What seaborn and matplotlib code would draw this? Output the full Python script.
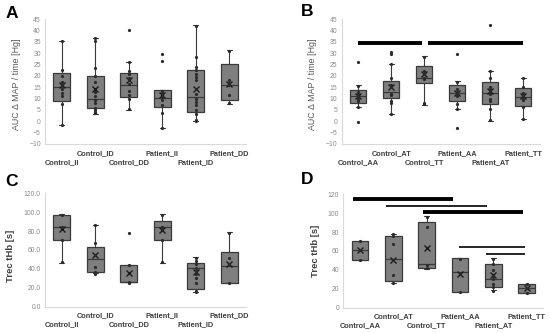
import numpy as np
import pandas as pd
import matplotlib
matplotlib.use('Agg')
import matplotlib.pyplot as plt
import seaborn as sns

sns.set_style("white")
plt.rcParams['font.family'] = ['Liberation Sans', 'DejaVu Sans']

# ------------------------------------------------------------
# Panel A: AUC dMAP by genotype (II/ID/DD)
# ------------------------------------------------------------
a_groups = ['Control_II', 'Control_ID', 'Control_DD', 'Patient_II', 'Patient_ID', 'Patient_DD']
a_lo = [-1.5, 3.0, 5.0, -3.0, 0.0, 7.7]
a_q1 = [9.0, 6.0, 10.5, 6.3, 4.3, 9.5]
a_med = [15.0, 10.0, 16.0, 10.3, 10.8, 16.0]
a_q3 = [21.2, 19.8, 21.2, 13.6, 22.5, 25.0]
a_hi = [35.5, 36.5, 26.2, 13.6, 42.2, 31.2]
a_mean = [16.0, 14.0, 18.0, 11.7, 14.0, 16.5]
a_points = [
    [35.5, 22.5, 20, 17.5, 16, 14, 12.5, 11, 7.5, -1.5],
    [36.5, 35.5, 23.5, 20, 17.5, 13, 11, 9.5, 8, 6, 5, 4, 3.5],
    [40, 26, 22, 21, 19, 18, 16.5, 13.5, 11.5, 10, 5.5],
    [29.5, 26.5, 13.5, 12.5, 10.5, 9.5, 7, 3.5, -3],
    [42, 28.5, 24, 22.5, 21, 19.5, 18, 14, 12, 10, 8.5, 7, 5, 3, 0.5, 0],
    [31, 18, 17, 16, 11.5, 8],
]

# ------------------------------------------------------------
# Panel B: AUC dMAP by genotype (AA/AT/TT)
# ------------------------------------------------------------
b_groups = ['Control_AA', 'Control_AT', 'Control_TT', 'Patient_AA', 'Patient_AT', 'Patient_TT']
b_lo = [6.5, 3.0, 7.2, 5.5, 0.3, 0.9]
b_q1 = [8.2, 10.2, 16.8, 9.1, 7.5, 6.9]
b_med = [11.0, 13.0, 19.1, 12.6, 12.6, 10.5]
b_q3 = [13.7, 17.8, 24.3, 16.1, 17.4, 14.6]
b_hi = [16.0, 25.0, 28.8, 17.9, 22.1, 19.2]
b_mean = [11.0, 15.0, 21.0, 12.5, 13.3, 11.0]
b_points = [
    [26, 15.5, 13, 12, 11, 10, 9, 6.5, -0.5],
    [30.5, 29.5, 25, 19, 16, 15, 12, 11.5, 9, 8, 3],
    [28.5, 22, 21, 19, 18.5, 8, 7.5],
    [29.5, 17.5, 14, 13, 12, 11, 7.5, 5.5, -3],
    [42.5, 22, 19, 15, 14, 13, 12, 10, 9, 5.5, 0.5],
    [19, 15, 12.5, 11, 10, 9.5, 6.5, 1],
]
# significance bars: (start, end, height, thick)
b_sig = [(0.0, 1.92, 34.6, True), (2.13, 4.98, 34.6, True)]

# ------------------------------------------------------------
# Panel C: Trec tHb by genotype (II/ID/DD)
# ------------------------------------------------------------
c_groups = a_groups
c_lo = [46.6, 35.3, 25.8, 46.6, 15.9, 25.4]
c_q1 = [71.0, 37.0, 25.8, 71.0, 18.3, 25.4]
c_med = [84.4, 50.8, 26.3, 84.4, 41.3, 43.4]
c_q3 = [97.0, 63.5, 44.0, 90.7, 46.6, 58.2]
c_hi = [97.8, 86.0, 44.0, 97.8, 52.6, 78.7]
c_mean = [82.0, 54.7, 35.6, 80.8, 37.0, 45.2]
c_points = [
    [97, 84, 71, 47],
    [86, 67, 55, 42, 37, 35],
    [78, 44, 26, 25],
    [97, 84, 82, 71, 47],
    [52, 48, 45, 41, 38, 35, 30, 25, 17, 16],
    [78, 52, 45, 25],
]

# ------------------------------------------------------------
# Panel D: Trec tHb by genotype (AA/AT/TT)
# ------------------------------------------------------------
d_groups = b_groups
d_lo = [50.1, 25.8, 41.2, 16.9, 18.3, 15.8]
d_q1 = [50.1, 27.9, 42.3, 16.9, 22.0, 15.8]
d_med = [60.7, 51.2, 46.5, 37.5, 30.0, 20.4]
d_q3 = [70.6, 75.5, 91.0, 52.2, 45.9, 24.8]
d_hi = [70.6, 78.0, 96.7, 52.2, 52.2, 24.8]
d_mean = [60.7, 51.0, 63.0, 36.0, 34.6, 20.5]
d_points = [
    [70.5, 61, 50],
    [78, 76, 67, 51, 35, 26],
    [96.5, 85, 45, 42],
    [52, 37, 17],
    [52, 46, 40, 34, 30, 25, 22, 18],
    [25, 20.5, 16],
]
d_sig = [(-0.2, 2.8, 115.0, True), (0.78, 3.8, 108.0, False), (1.88, 4.9, 101.3, True),
         (2.98, 4.95, 63.9, False), (3.78, 4.95, 56.5, False)]

BOX_FILL = '#7f7f7f'
EDGE = '#3a3a3a'


def draw_panel(ax, groups, lo, q1, med, q3, hi, mean, points):
    stats = []
    for i in range(len(groups)):
        stats.append(dict(whislo=lo[i], q1=q1[i], med=med[i], q3=q3[i],
                          whishi=hi[i], mean=mean[i], fliers=[]))
    ax.bxp(stats, positions=range(len(groups)), widths=0.5, capwidths=0.14,
           showmeans=True, patch_artist=True,
           boxprops=dict(facecolor=BOX_FILL, edgecolor=EDGE, linewidth=0.9),
           medianprops=dict(color=EDGE, linewidth=0.9),
           whiskerprops=dict(color=EDGE, linewidth=0.8),
           capprops=dict(color=EDGE, linewidth=0.8),
           meanprops=dict(marker='x', markeredgecolor='#1a1a1a', markersize=4, markeredgewidth=1.0))
    df = pd.DataFrame({
        'group': [g for g, pts in zip(groups, points) for _ in pts],
        'value': [v for pts in points for v in pts],
    })
    sns.stripplot(data=df, x='group', y='value', order=groups, jitter=False,
                  color='#2b2b2b', size=2.3, ax=ax, zorder=4)
    ax.set_xlim(-0.5, len(groups) - 0.5)
    ax.set_xticks(range(len(groups)))
    ax.set_xticklabels(groups, fontsize=5.3, fontweight='bold', color='#3f3f3f')
    for i, t in enumerate(ax.xaxis.get_major_ticks()):
        t.set_pad(4.2 if i % 2 else 10.6)
    ax.set_xlabel('')
    for s in ['top', 'right']:
        ax.spines[s].set_visible(False)
    for s in ['left', 'bottom']:
        ax.spines[s].set_color('#d9d9d9')
        ax.spines[s].set_linewidth(0.8)
    ax.tick_params(axis='both', length=0)
    ax.tick_params(axis='y', labelsize=4.9, labelcolor='#8c8c8c', pad=3)
    ax.grid(False)


def draw_sig(ax, sig):
    for x0, x1, y, thick in sig:
        ax.plot([x0, x1], [y, y], color='black', lw=2.8 if thick else 1.2,
                solid_capstyle='butt', clip_on=False, zorder=5)


fig = plt.figure(figsize=(5.5, 3.33), dpi=100)

axA = fig.add_axes([45 / 550, 1 - 144 / 333, 201 / 550, 125 / 333])
draw_panel(axA, a_groups, a_lo, a_q1, a_med, a_q3, a_hi, a_mean, a_points)
axA.set_ylim(-10, 45)
axA.set_yticks(range(-10, 46, 5))
axA.set_ylabel('AUC \u2206 MAP / time [Hg]', fontsize=6.4, color='#595959')
axA.yaxis.set_label_coords(-0.12, 0.48)

axB = fig.add_axes([341.7 / 550, 1 - 144 / 333, 198 / 550, 125 / 333])
draw_panel(axB, b_groups, b_lo, b_q1, b_med, b_q3, b_hi, b_mean, b_points)
axB.set_ylim(-10, 45)
axB.set_yticks(range(-10, 46, 5))
axB.set_ylabel('AUC \u2206 MAP / time [Hg]', fontsize=6.4, color='#595959')
axB.yaxis.set_label_coords(-0.123, 0.48)
draw_sig(axB, b_sig)

axC = fig.add_axes([45 / 550, 1 - 306.7 / 333, 201 / 550, 113.4 / 333])
draw_panel(axC, c_groups, c_lo, c_q1, c_med, c_q3, c_hi, c_mean, c_points)
axC.set_ylim(0, 120)
axC.set_yticks(range(0, 121, 20))
axC.set_yticklabels([f'{v:.1f}' for v in range(0, 121, 20)])
axC.set_ylabel('Trec tHb [s]', fontsize=6.8, fontweight='bold', color='#404040')
axC.yaxis.set_label_coords(-0.15, 0.45)

axD = fig.add_axes([343.3 / 550, 1 - 307.7 / 333, 200 / 550, 113.4 / 333])
draw_panel(axD, d_groups, d_lo, d_q1, d_med, d_q3, d_hi, d_mean, d_points)
axD.set_ylim(0, 120)
axD.set_yticks(range(0, 121, 20))
axD.set_ylabel('Trec tHb [s]', fontsize=6.8, fontweight='bold', color='#404040')
axD.yaxis.set_label_coords(-0.117, 0.5)
draw_sig(axD, d_sig)

for letter, x, y in [('A', 12, 13), ('B', 307, 12), ('C', 11, 182), ('D', 307, 180)]:
    fig.text(x / 550, 1 - y / 333, letter, fontsize=12.5, fontweight='bold',
             ha='center', va='center', color='black')

fig.savefig('out.png', dpi=100)
